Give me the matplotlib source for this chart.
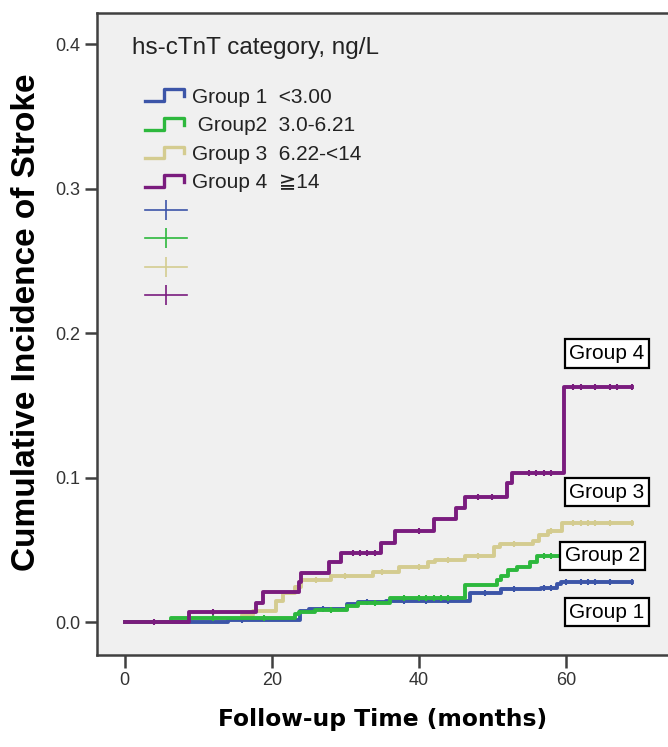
import numpy as np
import matplotlib
matplotlib.use("Agg")
import matplotlib.pyplot as plt
from matplotlib.lines import Line2D
from matplotlib.legend_handler import HandlerBase

plt.rcParams['font.family'] = ['Liberation Sans', 'DejaVu Sans']

# step data: (months, cumulative incidence)
g1_t = [0, 14, 23.9, 25, 30.2, 31.7, 35.6, 47.0, 51.2, 56.6, 58.8, 59.3, 69]
g1_v = [0, 0.0016, 0.008, 0.009, 0.0127, 0.0138, 0.015, 0.0205, 0.023, 0.0238, 0.0265, 0.028, 0.028]

g2_t = [0, 6.3, 23.2, 23.7, 25.9, 30.2, 31.7, 36.1, 46.3, 50.7, 51.2, 52.2, 53.4, 55.1, 56.1, 59]
g2_v = [0, 0.003, 0.006, 0.007, 0.0085, 0.0115, 0.013, 0.0165, 0.026, 0.029, 0.032, 0.036, 0.0385, 0.0415, 0.046, 0.046]

g3_t = [0, 6.5, 16.0, 17.5, 20.6, 21.5, 23.1, 24.0, 28.0, 33.7, 37.3, 41.2, 42.2, 46.3, 50.2, 51.0,
        55.6, 56.3, 57.6, 59.5, 69]
g3_v = [0, 0.002, 0.005, 0.008, 0.015, 0.020, 0.024, 0.029, 0.032, 0.035, 0.038, 0.0415, 0.043, 0.046,
        0.052, 0.054, 0.0565, 0.060, 0.063, 0.0685, 0.0685]

g4_t = [0, 8.7, 17.8, 18.8, 23.7, 24.0, 27.8, 29.4, 34.9, 36.8, 42.0, 45.1, 46.3, 52.0, 52.7, 59.8, 69]
g4_v = [0, 0.007, 0.013, 0.021, 0.028, 0.034, 0.0415, 0.048, 0.055, 0.063, 0.0715, 0.079, 0.0865,
        0.096, 0.103, 0.163, 0.163]

# censored times (small tick marks)
g1_cens = [16, 27, 33, 38, 41, 44, 49, 53, 57, 58, 60, 62, 63, 64, 66, 69]
g2_cens = [12, 19, 28, 34, 38, 40, 41, 42, 43, 44, 57, 58]
g3_cens = [26, 30, 35, 40, 44, 48, 53, 58, 61, 62, 63, 64, 66, 69]
g4_cens = [4, 12, 31, 32, 33, 34, 40, 48, 50, 55, 56, 57, 58, 61, 62, 64, 66, 67, 69]

names = ["Group 1  <3.00", " Group2  3.0-6.21", "Group 3  6.22-<14", "Group 4  \u2267" + "14"]
box_labels = ["Group 1", "Group 2", "Group 3", "Group 4"]
box_pos = [(65.6, 0.007), (65.0, 0.046), (65.6, 0.090), (65.6, 0.186)]
colors = ["#3C55A8", "#2DB83D", "#D4CC90", "#7A1C7E"]


def value_at(t, times, vals):
    i = np.searchsorted(times, t, side='right') - 1
    return np.asarray(vals)[i]


class StepHandler(HandlerBase):
    def create_artists(self, legend, orig_handle, xdescent, ydescent, width, height, fontsize, trans):
        xs = np.array([0, 0.45, 0.45, 0.95, 0.95]) * width - xdescent
        ys = np.array([0.1, 0.1, 0.9, 0.9, 0.45]) * height - ydescent
        ln = Line2D(xs, ys, color=orig_handle.get_color(), lw=2.4, transform=trans)
        return [ln]


fig = plt.figure(figsize=(6.68, 7.47), dpi=100)
ax = fig.add_axes([0.145, 0.123, 0.855, 0.8594])
ax.set_facecolor("#F0F0F0")

series = [(g1_t, g1_v, g1_cens), (g2_t, g2_v, g2_cens), (g3_t, g3_v, g3_cens), (g4_t, g4_v, g4_cens)]
order = [2, 0, 1, 3]
for k in order:
    t, v, c = series[k]
    ax.step(t, v, where='post', color=colors[k], lw=2.8, zorder=3)
    cv = [value_at(x, t, v) for x in c]
    ax.plot(c, cv, ls='none', marker='|', ms=5, mew=1.5, color=colors[k], zorder=3)

for lab, (x, y) in zip(box_labels, box_pos):
    ax.text(x, y, lab, ha='center', va='center', fontsize=15, zorder=5,
            bbox=dict(boxstyle='square,pad=0.22', fc='white', ec='black', lw=1.6))

ax.set_xlim(-3.8, 73.9)
ax.set_ylim(-0.0228, 0.4215)
ax.set_xticks([0, 20, 40, 60])
ax.set_yticks([0.0, 0.1, 0.2, 0.3, 0.4])
ax.set_yticklabels(["0.0", "0.1", "0.2", "0.3", "0.4"])
ax.tick_params(direction='out', length=9, width=1.8, color='#404040', labelsize=13,
               labelcolor='#333333', pad=3)
for s in ['left', 'top', 'bottom']:
    ax.spines[s].set_color('#404040')
    ax.spines[s].set_linewidth(1.8)
ax.spines['right'].set_visible(False)

ax.set_xlabel("Follow-up Time (months)", fontsize=16.8, fontweight='bold',
              family='DejaVu Sans', labelpad=14)
ax.set_ylabel("Cumulative Incidence of Stroke", fontsize=24, fontweight='bold')
ax.yaxis.set_label_coords(-0.096, 0.519)

ax.text(0.061, 0.9455, "hs-cTnT category, ng/L", transform=ax.transAxes,
        ha='left', va='center', fontsize=17.5, color='#222222')

handles = [Line2D([], [], color=c) for c in colors]
cens_handles = [Line2D([], [], color=c, lw=1.2, marker='|', ms=14, mew=1.2) for c in colors]
hmap = {h: StepHandler() for h in handles}
leg = ax.legend(handles + cens_handles, names + [" "] * 4, handler_map=hmap,
                loc='upper left', bbox_to_anchor=(0.084, 0.884), frameon=False,
                fontsize=15, handlelength=2.0, handletextpad=0.25, labelspacing=0.46,
                borderpad=0, borderaxespad=0, numpoints=1)
for txt in leg.get_texts():
    txt.set_color('#222222')

fig.savefig("out.png", dpi=100)
